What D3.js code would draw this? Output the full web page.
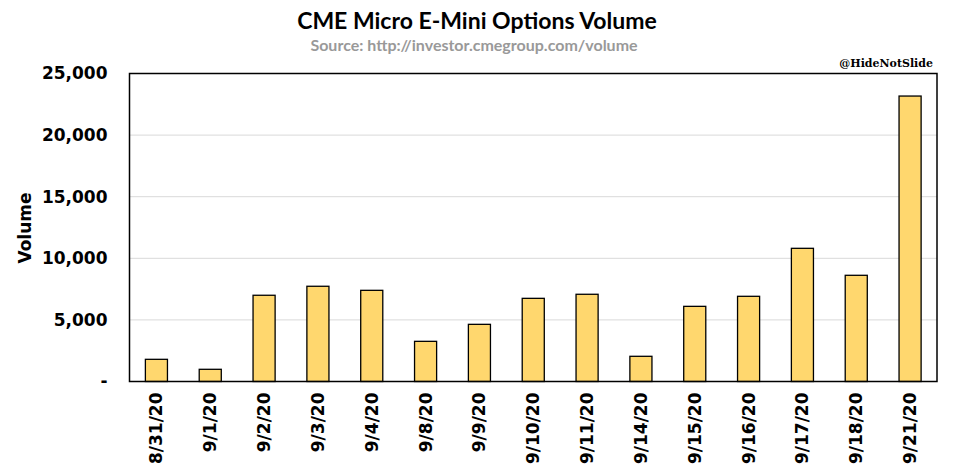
<!DOCTYPE html>
<html>
<head>
<meta charset="utf-8">
<script src="https://cdn.jsdelivr.net/npm/d3@7"></script>
<style>
  body { margin: 0; background: #fff; }
  text { font-family: "DejaVu Sans", sans-serif; }
</style>
</head>
<body>
<div id="chart"></div>
<script>
var svgWidth = 954;
var svgHeight = 475;

// data
var dates = ["8/31/20", "9/1/20", "9/2/20", "9/3/20", "9/4/20", "9/8/20", "9/9/20",
  "9/10/20", "9/11/20", "9/14/20", "9/15/20", "9/16/20", "9/17/20", "9/18/20", "9/21/20"];
var volumes = [1800, 990, 7000, 7730, 7400, 3260, 4640, 6750, 7080, 2045, 6100, 6915, 10810, 8620, 23170];
var yTicks = [0, 5000, 10000, 15000, 20000, 25000];

var margin = { top: 73.5, right: 17, bottom: 93.5, left: 129.5 };
var width = svgWidth - margin.left - margin.right;
var height = svgHeight - margin.top - margin.bottom;

var svg = d3.select("#chart")
  .append("svg")
  .attr("width", svgWidth)
  .attr("height", svgHeight);

var chartGroup = svg.append("g")
  .attr("transform", `translate(${margin.left}, ${margin.top})`);

var xScale = d3.scaleBand()
  .domain(dates)
  .range([0, width])
  .paddingInner(0.59)
  .paddingOuter(0.295);

var yScale = d3.scaleLinear()
  .domain([0, 25000])
  .range([height, 0]);

// gridlines
chartGroup.append("g")
  .selectAll("line")
  .data(yTicks.slice(1, -1))
  .enter()
  .append("line")
  .attr("x1", 0)
  .attr("x2", width)
  .attr("y1", d => yScale(d))
  .attr("y2", d => yScale(d))
  .attr("stroke", "#d9d9d9")
  .attr("stroke-width", 1);

// bars
chartGroup.selectAll("rect.bar")
  .data(volumes)
  .enter()
  .append("rect")
  .attr("class", "bar")
  .attr("x", (d, i) => xScale(dates[i]))
  .attr("y", d => yScale(d))
  .attr("width", xScale.bandwidth())
  .attr("height", d => height - yScale(d))
  .attr("fill", "#ffd76e")
  .attr("stroke", "#000")
  .attr("stroke-width", 1.3);

// plot border
chartGroup.append("rect")
  .attr("x", 0)
  .attr("y", 0)
  .attr("width", width)
  .attr("height", height)
  .attr("fill", "none")
  .attr("stroke", "#000")
  .attr("stroke-width", 1.5);

// y axis
var leftAxis = d3.axisLeft(yScale)
  .tickValues(yTicks)
  .tickSize(0)
  .tickPadding(22)
  .tickFormat(d => d === 0 ? "-" : d3.format(",")(d));

var yAxis = chartGroup.append("g").call(leftAxis);
yAxis.select(".domain").remove();
yAxis.selectAll("text")
  .style("font-size", "17px")
  .style("font-weight", "bold")
  .attr("fill", "#000");

// x axis
var bottomAxis = d3.axisBottom(xScale).tickSize(0);
var xAxis = chartGroup.append("g")
  .attr("transform", `translate(0, ${height})`)
  .call(bottomAxis);
xAxis.select(".domain").remove();
xAxis.selectAll("text")
  .attr("transform", "rotate(-90)")
  .attr("x", -11)
  .attr("y", 0)
  .attr("dy", "0.35em")
  .style("text-anchor", "end")
  .style("font-size", "17px")
  .style("font-weight", "bold")
  .attr("fill", "#000");

// y label
svg.append("text")
  .attr("transform", "rotate(-90)")
  .attr("x", -228)
  .attr("y", 31)
  .attr("text-anchor", "middle")
  .style("font-size", "17px")
  .style("font-weight", "bold")
  .text("Volume");

// titles
svg.append("text")
  .attr("x", 477)
  .attr("y", 29)
  .attr("text-anchor", "middle")
  .style("font-family", "Lato, sans-serif")
  .style("font-size", "23px")
  .style("font-weight", "bold")
  .text("CME Micro E-Mini Options Volume");

svg.append("text")
  .attr("x", 474)
  .attr("y", 51)
  .attr("text-anchor", "middle")
  .style("font-family", "Lato, sans-serif")
  .style("font-size", "16px")
  .style("font-weight", "bold")
  .attr("fill", "#999")
  .text("Source: http://investor.cmegroup.com/volume");

svg.append("text")
  .attr("x", 933)
  .attr("y", 67)
  .attr("text-anchor", "end")
  .style("font-family", "'DejaVu Serif', serif")
  .style("font-size", "11px")
  .style("font-weight", "bold")
  .text("@HideNotSlide");
</script>
</body>
</html>
